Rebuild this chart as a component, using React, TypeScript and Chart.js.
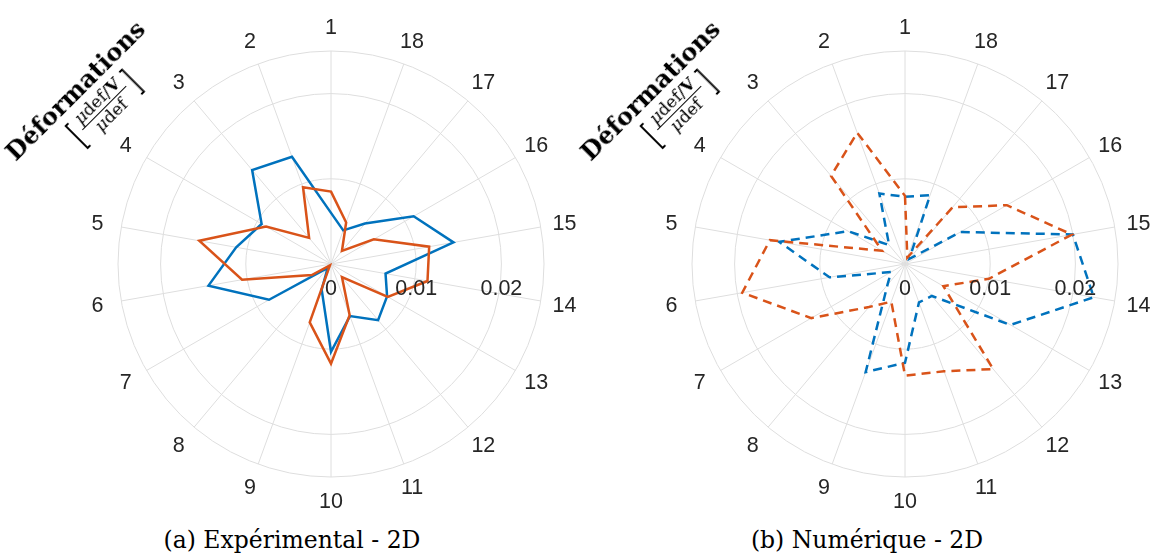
import React, { useEffect, useRef } from 'react';
import { Chart, registerables } from 'chart.js';

Chart.register(...registerables);

// Spoke labels, counter-clockwise from the top
const SPOKE_LABELS = ['1', '2', '3', '4', '5', '6', '7', '8', '9', '10', '11', '12', '13', '14', '15', '16', '17', '18'];

// (a) Expérimental - 2D
const EXP_BLUE = [0.0060, 0.0134, 0.0144, 0.0094, 0.0113, 0.0146, 0.0084, 0.0006, 0.0032, 0.0103, 0.0065, 0.0086, 0.0076, 0.0065, 0.0146, 0.0112, 0.0062, 0.0042];
const EXP_ORANGE = [0.0085, 0.0096, 0.0040, 0.0088, 0.0157, 0.0106, 0.0026, 0.0002, 0.0073, 0.0117, 0.0064, 0.0020, 0.0077, 0.0115, 0.0117, 0.0058, 0.0020, 0.0052];

// (b) Numérique - 2D
const NUM_BLUE = [0.0079, 0.0088, 0.0029, 0.0077, 0.0150, 0.0090, 0.0019, 0.0032, 0.0135, 0.0116, 0.0048, 0.0049, 0.0143, 0.0225, 0.0200, 0.0075, 0.0008, 0.0086];
const NUM_ORANGE = [0.0080, 0.0164, 0.0135, 0.0031, 0.0161, 0.0194, 0.0127, 0.0066, 0.0047, 0.0131, 0.0134, 0.0161, 0.0052, 0.0100, 0.0199, 0.0138, 0.0087, 0.0008];

const R_TICKS = [0, 0.01, 0.02];
const R_TICK_LABELS = ['0', '0.01', '0.02'];
const R_MAX = 0.025;

const BLUE = '#0072BD';
const ORANGE = '#D95319';
const GRID = '#dedede';
const TEXT = '#262626';

// Chart.js radar runs clockwise; the reference runs counter-clockwise.
const CW_ORDER = [0, 17, 16, 15, 14, 13, 12, 11, 10, 9, 8, 7, 6, 5, 4, 3, 2, 1];
const toCw = <T,>(arr: T[]): T[] => CW_ORDER.map((i) => arr[i]);

const CANVAS = 520;
const PAD = 47;

const polarLabels = {
  id: 'polarLabels',
  afterDatasetsDraw(chart: any) {
    const scale = chart.scales.r;
    const ctx = chart.ctx;
    ctx.save();
    ctx.font = '21.5px "Liberation Sans", Arial, sans-serif';
    ctx.fillStyle = TEXT;
    ctx.textAlign = 'center';
    ctx.textBaseline = 'middle';
    chart.data.labels.forEach((lab: string, i: number) => {
      const p = scale.getPointPosition(i, scale.drawingArea + 24);
      ctx.fillText(lab, p.x, p.y + 1);
    });
    R_TICKS.forEach((v, k) => {
      const d = scale.getDistanceFromCenterForValue(v);
      ctx.fillText(R_TICK_LABELS[k], scale.xCenter + d, scale.yCenter + 25);
    });
    ctx.restore();
  },
};

function PolarPanel({ s1, s2, dashed, left, top }: { s1: number[]; s2: number[]; dashed: boolean; left: number; top: number }) {
  const ref = useRef<HTMLCanvasElement>(null);
  useEffect(() => {
    if (!ref.current) return;
    const dash = dashed ? [9, 6] : [];
    const chart = new Chart(ref.current, {
      type: 'radar',
      data: {
        labels: toCw(SPOKE_LABELS),
        datasets: [
          {
            data: toCw(s1),
            borderColor: BLUE,
            borderWidth: 2.5,
            borderDash: dash,
            borderJoinStyle: 'miter',
            fill: false,
            pointRadius: 0,
            tension: 0,
            order: 2,
          },
          {
            data: toCw(s2),
            borderColor: ORANGE,
            borderWidth: 2.5,
            borderDash: dash,
            borderJoinStyle: 'miter',
            fill: false,
            pointRadius: 0,
            tension: 0,
            order: 1,
          },
        ],
      },
      options: {
        responsive: false,
        animation: false,
        layout: { padding: PAD },
        plugins: { legend: { display: false }, tooltip: { enabled: false }, title: { display: false } },
        scales: {
          r: {
            min: 0,
            max: R_MAX,
            afterBuildTicks: (scale: any) => {
              scale.ticks = [...R_TICKS, R_MAX].map((v) => ({ value: v }));
            },
            ticks: { display: false },
            pointLabels: { display: false },
            grid: { color: GRID, lineWidth: 1, circular: true },
            angleLines: { color: GRID, lineWidth: 1 },
          },
        },
      },
      plugins: [polarLabels],
    } as any);
    return () => chart.destroy();
  }, [s1, s2, dashed]);
  return (
    <canvas
      ref={ref}
      width={CANVAS}
      height={CANVAS}
      style={{ position: 'absolute', left, top, width: CANVAS, height: CANVAS }}
    />
  );
}

function AxisTitle({ cx, cy }: { cx: number; cy: number }) {
  return (
    <div
      style={{
        position: 'absolute',
        left: cx - 120,
        top: cy - 45,
        width: 240,
        height: 90,
        transform: 'rotate(-45deg)',
        display: 'flex',
        flexDirection: 'column',
        alignItems: 'center',
        fontFamily: '"DejaVu Serif", "Liberation Serif", serif',
        color: '#000',
        lineHeight: 1,
      }}
    >
      <div style={{ fontWeight: 'bold', fontSize: 24, letterSpacing: 0.2 }}>Déformations</div>
      <div style={{ display: 'flex', alignItems: 'center', marginTop: 1, marginLeft: 16 }}>
        <span style={{ fontSize: 38, fontWeight: 200, transform: 'scaleX(0.55)' }}>[</span>
        <div style={{ display: 'flex', flexDirection: 'column', alignItems: 'center', fontSize: 17 }}>
          <span><i>μ</i>def/<b>V</b></span>
          <span style={{ width: 62, borderTop: '1px solid #000', margin: '1px 0' }} />
          <span><i>μ</i>def</span>
        </div>
        <span style={{ fontSize: 38, fontWeight: 200, transform: 'scaleX(0.55)' }}>]</span>
      </div>
    </div>
  );
}

export default function App() {
  const leftCx = 331;
  const rightCx = 905;
  const cy = 264;
  const half = CANVAS / 2;
  const captionStyle: React.CSSProperties = {
    position: 'absolute',
    top: 525,
    width: 400,
    textAlign: 'center',
    fontFamily: '"DejaVu Serif", "Liberation Serif", serif',
    fontSize: 23.5,
    color: '#000',
    lineHeight: '30px',
  };
  return (
    <div style={{ position: 'absolute', left: 0, top: 0, width: 1157, height: 557, background: '#fff', overflow: 'hidden' }}>
      <PolarPanel s1={EXP_BLUE} s2={EXP_ORANGE} dashed={false} left={leftCx - half} top={cy - half} />
      <PolarPanel s1={NUM_BLUE} s2={NUM_ORANGE} dashed={true} left={rightCx - half} top={cy - half} />
      <AxisTitle cx={99} cy={114} />
      <AxisTitle cx={674} cy={114} />
      <div style={{ ...captionStyle, left: 292 - 200 }}>(a) Expérimental - 2D</div>
      <div style={{ ...captionStyle, left: 867 - 200 }}>(b) Numérique - 2D</div>
    </div>
  );
}
